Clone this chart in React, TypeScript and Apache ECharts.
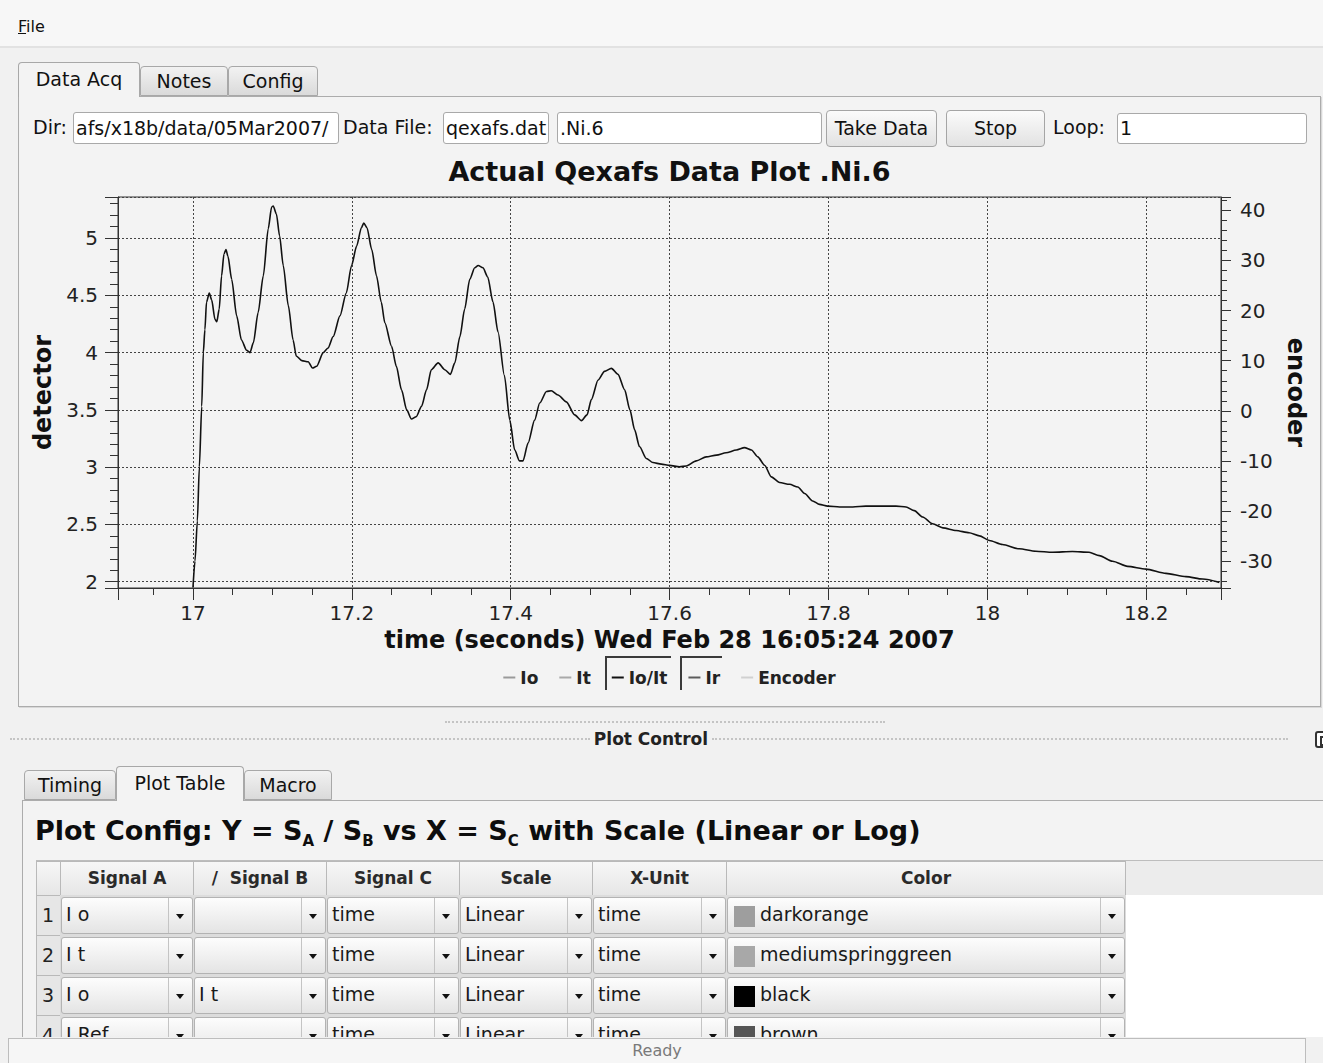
import React, { useEffect, useRef } from "react";
import * as echarts from "echarts";

// ---------- chart data ----------
const timeSec = [
  17.0, 17.0025, 17.0055, 17.008, 17.011, 17.013, 17.015, 17.017, 17.0205, 17.0235,
  17.0277, 17.03, 17.033, 17.036, 17.039, 17.0415, 17.044, 17.0487, 17.055, 17.061,
  17.0675, 17.0717, 17.076, 17.082, 17.0885, 17.0947, 17.099, 17.101, 17.105, 17.109,
  17.1136, 17.12, 17.126, 17.13, 17.137, 17.145, 17.1505, 17.1556, 17.164, 17.17,
  17.1765, 17.185, 17.193, 17.1996, 17.206, 17.212, 17.215, 17.219, 17.225, 17.231,
  17.237, 17.2415, 17.25, 17.256, 17.2625, 17.269, 17.275, 17.281, 17.2877, 17.294,
  17.3, 17.3086, 17.317, 17.324, 17.3296, 17.336, 17.342, 17.3484, 17.3547, 17.359,
  17.365, 17.371, 17.3777, 17.384, 17.392, 17.3988, 17.405, 17.411, 17.4155, 17.4218,
  17.43, 17.4365, 17.445, 17.451, 17.4595, 17.47, 17.4805, 17.489, 17.496, 17.5015,
  17.51, 17.518, 17.5267, 17.535, 17.5434, 17.55, 17.556, 17.562, 17.5707, 17.579,
  17.5896, 17.6, 17.6126, 17.621, 17.6336, 17.646, 17.659, 17.671, 17.684, 17.6943,
  17.703, 17.711, 17.7195, 17.728, 17.7384, 17.751, 17.7614, 17.77, 17.78, 17.7887,
  17.799, 17.814, 17.8306, 17.847, 17.868, 17.885, 17.8977, 17.908, 17.9186, 17.931,
  17.944, 17.9606, 17.977, 17.99, 18.0025, 18.019, 18.04, 18.061, 18.082, 18.107,
  18.128, 18.141, 18.1576, 18.1765, 18.1996, 18.2248, 18.25, 18.271, 18.292,
];
const ioOverIt = [
  1.95, 2.18, 2.53, 3.0, 3.53, 4.0, 4.2, 4.44, 4.52, 4.46,
  4.29, 4.27, 4.38, 4.67, 4.86, 4.9, 4.84, 4.64, 4.32, 4.11,
  4.02, 4.0, 4.085, 4.35, 4.67, 5.08, 5.27, 5.28, 5.21, 5.02,
  4.76, 4.41, 4.11, 3.97, 3.93, 3.92, 3.865, 3.88, 4.0, 4.04,
  4.14, 4.32, 4.52, 4.76, 4.93, 5.09, 5.13, 5.09, 4.9, 4.67,
  4.44, 4.26, 4.055, 3.88, 3.675, 3.5, 3.42, 3.44, 3.53, 3.675,
  3.85, 3.91, 3.85, 3.81, 3.91, 4.14, 4.38, 4.64, 4.74, 4.76,
  4.74, 4.66, 4.44, 4.18, 3.8, 3.41, 3.15, 3.055, 3.055, 3.21,
  3.41, 3.56, 3.66, 3.667, 3.63, 3.57, 3.456, 3.406, 3.456, 3.59,
  3.76, 3.836, 3.862, 3.81, 3.675, 3.5, 3.325, 3.18, 3.076, 3.04,
  3.026, 3.015, 3.003, 3.01, 3.055, 3.09, 3.105, 3.125, 3.15, 3.17,
  3.15, 3.09, 3.017, 2.915, 2.866, 2.85, 2.827, 2.77, 2.705, 2.675,
  2.66, 2.652, 2.652, 2.66, 2.66, 2.66, 2.652, 2.62, 2.565, 2.506,
  2.47, 2.447, 2.427, 2.4, 2.36, 2.325, 2.287, 2.266, 2.257, 2.263,
  2.257, 2.228, 2.178, 2.134, 2.11, 2.073, 2.044, 2.023, 1.994,
];
const legendNames = ["Io", "It", "Io/It", "Ir", "Encoder"];
const legendColors = ["#9a9a9a", "#a9a9a9", "#111111", "#5c5c5c", "#d0d0d0"];
const timeRange = [16.9056, 18.2941];
const detectorRange = [1.945, 5.358];
const encoderRange = [-35.3, 42.63];

// ---------- UI table content ----------
const tableHeaders = ["", "Signal A", "/  Signal B", "Signal C", "Scale", "X-Unit", "Color"];
const tableRows = [
  ["1", "I o", "", "time", "Linear", "time", "darkorange"],
  ["2", "I t", "", "time", "Linear", "time", "mediumspringgreen"],
  ["3", "I o", "I t", "time", "Linear", "time", "black"],
  ["4", "I Ref", "", "time", "Linear", "time", "brown"],
];
const swatchColors = ["#9e9e9e", "#a8a8a8", "#000000", "#555555"];
const colEdges = [36, 60, 193, 326, 459, 592, 726, 1125];

const FONT = "'DejaVu Sans', 'Noto Sans', sans-serif";

function Chart() {
  const ref = useRef<HTMLDivElement>(null);
  useEffect(() => {
    const chart = echarts.init(ref.current as HTMLDivElement, null, { renderer: "svg" });
    const mainData = timeSec.map((t, i) => [t, ioOverIt[i]]);
    const axisCommon = {
      axisLine: { show: true, onZero: false, lineStyle: { color: "#333", width: 1 } },
    };
    const series: any[] = legendNames.map((n, i) => ({
      name: n,
      type: "line",
      yAxisIndex: n === "Encoder" ? 1 : 0,
      data: n === "Io/It" ? mainData : [],
      color: legendColors[i],
      showSymbol: false,
      smooth: 0.25,
      smoothMonotone: "x",
      lineStyle: { width: 1.6, color: legendColors[i] },
    }));
    chart.setOption({
      animation: false,
      textStyle: { fontFamily: FONT },
      title: {
        text: "Actual Qexafs Data Plot .Ni.6",
        left: "center",
        top: 3,
        textStyle: { fontSize: 27, fontWeight: "bold", color: "#111", fontFamily: FONT },
      },
      legend: {
        data: legendNames,
        left: "center",
        top: 514,
        icon: "rect",
        itemWidth: 12,
        itemHeight: 2,
        itemGap: 21,
        textStyle: { fontSize: 17, fontWeight: "bold", color: "#222", fontFamily: FONT },
      },
      grid: {
        left: 102,
        right: 102,
        top: 47,
        bottom: 114,
        show: true,
        borderColor: "#333",
        borderWidth: 1,
        backgroundColor: "transparent",
      },
      xAxis: {
        type: "value",
        min: timeRange[0],
        max: timeRange[1],
        splitNumber: 7,
        name: "time (seconds) Wed Feb 28 16:05:24 2007",
        nameLocation: "middle",
        nameGap: 35,
        nameTextStyle: { fontSize: 24, fontWeight: "bold", color: "#111", fontFamily: FONT },
        ...axisCommon,
        axisTick: { show: true, length: 12, lineStyle: { color: "#333" } },
        minorTick: { show: true, splitNumber: 4, length: 7, lineStyle: { color: "#333" } },
        axisLabel: { fontSize: 20, color: "#222", margin: 15, showMinLabel: false, showMaxLabel: false, fontFamily: FONT },
        splitLine: { show: true, lineStyle: { color: "#444", type: [2, 2], width: 1 } },
      },
      yAxis: [
        {
          type: "value",
          position: "left",
          min: detectorRange[0],
          max: detectorRange[1],
          splitNumber: 7,
          name: "detector",
          nameLocation: "middle",
          nameRotate: 90,
          nameGap: 58,
          nameTextStyle: { fontSize: 24, fontWeight: "bold", color: "#111", fontFamily: FONT },
          ...axisCommon,
          axisTick: { show: true, length: 13, lineStyle: { color: "#333" } },
          minorTick: { show: true, splitNumber: 5, length: 8, lineStyle: { color: "#333" } },
          axisLabel: { fontSize: 20, color: "#222", margin: 20, showMinLabel: false, showMaxLabel: false, fontFamily: FONT },
          splitLine: { show: true, lineStyle: { color: "#444", type: [2, 2], width: 1 } },
        },
        {
          type: "value",
          position: "right",
          min: encoderRange[0],
          max: encoderRange[1],
          splitNumber: 8,
          name: "encoder",
          nameLocation: "middle",
          nameRotate: -90,
          nameGap: 57,
          nameTextStyle: { fontSize: 24, fontWeight: "bold", color: "#111", fontFamily: FONT },
          ...axisCommon,
          axisTick: { show: true, length: 10, lineStyle: { color: "#333" } },
          minorTick: { show: true, splitNumber: 5, length: 6, lineStyle: { color: "#333" } },
          axisLabel: { fontSize: 20, color: "#222", margin: 19, showMinLabel: false, showMaxLabel: false, fontFamily: FONT },
          splitLine: { show: false },
        },
      ],
      graphic: [
        {
          type: "polyline",
          shape: { points: [[590, 540], [590, 507], [655, 507]] },
          style: { stroke: "#3a3a3a", lineWidth: 2, fill: null },
          silent: true,
        },
        {
          type: "polyline",
          shape: { points: [[665, 540], [665, 507], [706, 507]] },
          style: { stroke: "#3a3a3a", lineWidth: 2, fill: null },
          silent: true,
        },
      ],
      series,
    });
    return () => chart.dispose();
  }, []);
  return (
    <div
      ref={ref}
      style={{ position: "absolute", left: 16, top: 150, width: 1307, height: 552 }}
    />
  );
}

function Abs(props: { l: number; t: number; w?: number; h?: number; style?: any; children?: any }) {
  const { l, t, w, h, style, children } = props;
  return (
    <div style={{ position: "absolute", left: l, top: t, width: w, height: h, boxSizing: "border-box", ...style }}>
      {children}
    </div>
  );
}

function Input(props: { l: number; t: number; w: number; h: number; text: string }) {
  return (
    <Abs
      l={props.l}
      t={props.t}
      w={props.w}
      h={props.h}
      style={{
        background: "#fff",
        border: "1px solid #a9a9a9",
        borderRadius: 3,
        overflow: "hidden",
        whiteSpace: "nowrap",
        fontSize: 19,
        lineHeight: props.h - 2 + "px",
        paddingLeft: 2,
        color: "#111",
      }}
    >
      {props.text}
    </Abs>
  );
}

function Button(props: { l: number; t: number; w: number; h: number; text: string }) {
  return (
    <Abs
      l={props.l}
      t={props.t}
      w={props.w}
      h={props.h}
      style={{
        background: "linear-gradient(#fbfbfb, #e2e2e2)",
        border: "1px solid #a5a5a5",
        borderRadius: 4,
        fontSize: 19,
        lineHeight: props.h - 2 + "px",
        textAlign: "center",
        color: "#111",
      }}
    >
      {props.text}
    </Abs>
  );
}

function Tab(props: { l: number; w: number; top: number; bottom: number; text: string; sel?: boolean }) {
  const { l, w, top, bottom, text, sel } = props;
  return (
    <Abs
      l={l}
      t={top}
      w={w}
      h={bottom - top + (sel ? 1 : 0)}
      style={{
        background: sel ? "#f3f3f3" : "linear-gradient(#f2f2f2, #dadada)",
        border: "1px solid #a8a8a8",
        borderBottom: sel ? "none" : "1px solid #a8a8a8",
        borderRadius: "4px 4px 0 0",
        fontSize: 19,
        lineHeight: bottom - top - 2 + "px",
        textAlign: "center",
        color: "#111",
        zIndex: sel ? 2 : 1,
      }}
    >
      {text}
    </Abs>
  );
}

function Combo(props: { l: number; t: number; w: number; h: number; text: string; swatch?: string }) {
  const { l, t, w, h, text, swatch } = props;
  return (
    <Abs
      l={l}
      t={t}
      w={w}
      h={h}
      style={{
        background: "linear-gradient(#fdfdfd, #e4e4e4)",
        border: "1px solid #b3b3b3",
        borderRadius: 3,
        overflow: "hidden",
        whiteSpace: "nowrap",
      }}
    >
      {swatch ? (
        <div style={{ position: "absolute", left: 6, top: (h - 22) / 2, width: 21, height: 21, background: swatch }} />
      ) : null}
      <div
        style={{
          position: "absolute",
          left: swatch ? 32 : 4,
          top: 0,
          lineHeight: h - 4 + "px",
          fontSize: 19,
          color: "#1a1a1a",
        }}
      >
        {text}
      </div>
      <div
        style={{
          position: "absolute",
          right: 0,
          top: 0,
          width: 23,
          height: "100%",
          borderLeft: "1px solid #c4c4c4",
        }}
      >
        <div
          style={{
            position: "absolute",
            left: 7,
            top: "50%",
            marginTop: -2,
            width: 0,
            height: 0,
            borderLeft: "4px solid transparent",
            borderRight: "4px solid transparent",
            borderTop: "5px solid #111",
          }}
        />
      </div>
    </Abs>
  );
}

export default function App() {
  const rowTop = [896, 936, 976, 1016];
  return (
    <div
      style={{
        position: "fixed",
        left: 0,
        top: 0,
        width: 1323,
        height: 1063,
        overflow: "hidden",
        background: "#f1f1f1",
        fontFamily: FONT,
        color: "#111",
      }}
    >
      {/* menu bar */}
      <Abs l={0} t={0} w={1323} h={48} style={{ background: "#f7f7f7", borderBottom: "2px solid #e2e2e2" }} />
      <Abs l={18} t={16} style={{ fontSize: 16, lineHeight: "22px" }}>
        <span style={{ textDecoration: "underline" }}>F</span>ile
      </Abs>

      {/* top tab widget */}
      <Abs l={18} t={96} w={1303} h={611} style={{ border: "1px solid #acacac", background: "#f3f3f3", boxShadow: "1px 1px 0 #d8d8d8" }} />
      <Tab l={18} w={122} top={62} bottom={96} text="Data Acq" sel />
      <Tab l={140} w={88} top={66} bottom={96} text="Notes" />
      <Tab l={228} w={90} top={66} bottom={96} text="Config" />

      {/* acquisition row */}
      <Abs l={33} t={115} style={{ fontSize: 19, lineHeight: "24px" }}>Dir:</Abs>
      <Input l={73} t={112} w={266} h={32} text="afs/x18b/data/05Mar2007/" />
      <Abs l={343} t={115} style={{ fontSize: 19, lineHeight: "24px" }}>Data File:</Abs>
      <Input l={443} t={112} w={106} h={32} text="qexafs.dat" />
      <Input l={557} t={112} w={265} h={32} text=".Ni.6" />
      <Button l={826} t={110} w={111} h={37} text="Take Data" />
      <Button l={946} t={110} w={99} h={37} text="Stop" />
      <Abs l={1053} t={115} style={{ fontSize: 19, lineHeight: "24px" }}>Loop:</Abs>
      <Input l={1117} t={113} w={190} h={31} text="1" />

      <Chart />

      {/* splitter / Plot Control */}
      <Abs l={445} t={721} w={440} h={2} style={{ borderTop: "2px dotted #c4c4c4" }} />
      <Abs l={10} t={738} w={580} h={2} style={{ borderTop: "2px dotted #c4c4c4" }} />
      <Abs l={712} t={738} w={576} h={2} style={{ borderTop: "2px dotted #c4c4c4" }} />
      <Abs l={590} t={728} w={122} style={{ fontSize: 17, fontWeight: "bold", lineHeight: "22px", textAlign: "center", color: "#222" }}>
        Plot Control
      </Abs>
      <Abs l={1315} t={731} w={14} h={17} style={{ border: "2px solid #333", borderRadius: 3, background: "#fff" }}>
        <div style={{ position: "absolute", left: 3, top: 3, width: 6, height: 6, border: "2px solid #333" }} />
      </Abs>

      {/* bottom tab widget */}
      <Abs l={22} t={800} w={1310} h={300} style={{ border: "1px solid #acacac", background: "#f3f3f3" }} />
      <Tab l={24} w={92} top={770} bottom={800} text="Timing" />
      <Tab l={116} w={128} top={766} bottom={800} text="Plot Table" sel />
      <Tab l={244} w={88} top={770} bottom={800} text="Macro" />

      <Abs l={35} t={813} style={{ fontSize: 27, fontWeight: "bold", lineHeight: "36px", whiteSpace: "nowrap", color: "#0d0d0d" }}>
        Plot Config: Y = S<sub style={{ fontSize: 15 }}>A</sub> / S<sub style={{ fontSize: 15 }}>B</sub> vs X = S
        <sub style={{ fontSize: 15 }}>C</sub> with Scale (Linear or Log)
      </Abs>

      {/* table viewport */}
      <Abs l={36} t={860} w={1300} h={36} style={{ background: "#ececec", borderTop: "1px solid #bdbdbd" }} />
      <Abs l={36} t={895} w={1300} h={160} style={{ background: "#ffffff" }} />
      {tableHeaders.map((hd, i) => (
        <Abs
          key={"h" + i}
          l={colEdges[i]}
          t={861}
          w={colEdges[i + 1] - colEdges[i] + 1}
          h={35}
          style={{
            background: "linear-gradient(#f7f7f7, #e6e6e6)",
            border: "1px solid #b9b9b9",
            fontSize: 17,
            fontWeight: "bold",
            lineHeight: "32px",
            textAlign: "center",
            color: "#2a2a2a",
            whiteSpace: "pre",
          }}
        >
          {hd}
        </Abs>
      ))}
      {tableRows.map((row, r) => (
        <React.Fragment key={"r" + r}>
          <Abs
            l={36}
            t={rowTop[r] - 1}
            w={25}
            h={41}
            style={{ background: "#e6e6e6", border: "1px solid #b9b9b9", fontSize: 19, lineHeight: "38px", paddingLeft: 5, color: "#222" }}
          >
            {row[0]}
          </Abs>
          <Abs l={60} t={rowTop[r] - 1} w={1066} h={41} style={{ background: "#dcdcdc" }} />
          {row.slice(1).map((cell, c) => (
            <Combo
              key={"c" + c}
              l={colEdges[c + 1] + 1}
              t={rowTop[r] + 1}
              w={colEdges[c + 2] - colEdges[c + 1] - 1}
              h={37}
              text={cell}
              swatch={c === 5 ? swatchColors[r] : undefined}
            />
          ))}
        </React.Fragment>
      ))}

      {/* status bar */}
      <Abs l={0} t={1037} w={1323} h={26} style={{ background: "#f1f1f1" }} />
      <Abs
        l={8}
        t={1038}
        w={1298}
        h={27}
        style={{ border: "1px solid #bdbdbd", background: "#f6f6f6", fontSize: 16, lineHeight: "24px", textAlign: "center", color: "#7a7a7a" }}
      >
        Ready
      </Abs>
    </div>
  );
}
